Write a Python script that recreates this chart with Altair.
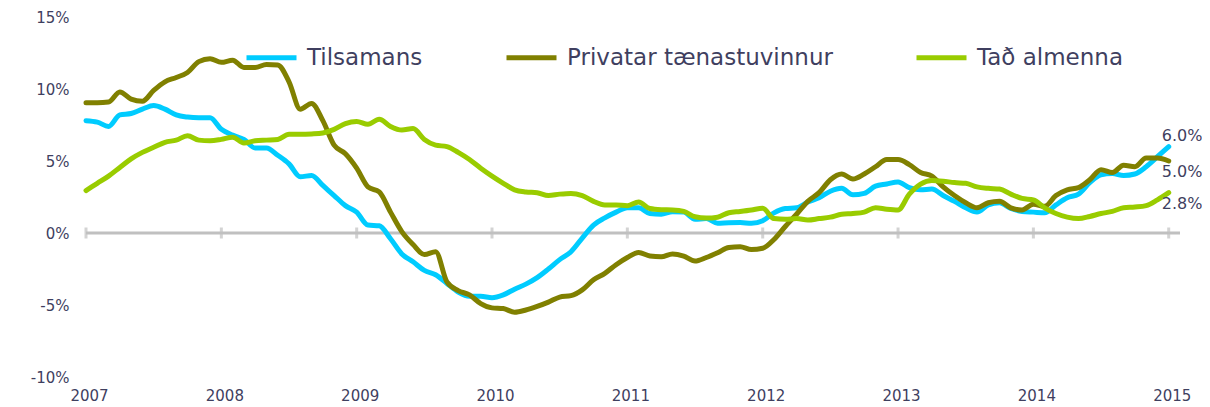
import altair as alt
import pandas as pd

series_names = ["Tilsamans", "Privatar tænastuvinnur", "Tað almenna"]
colors = ["#00CCFF", "#808000", "#99CC00"]
text_color = "#3F3F5F"
start_year = 2007

tilsamans = [7.8, 7.7, 7.4, 8.2, 8.3, 8.6, 8.85, 8.6, 8.2, 8.05, 8.0, 8.0,
             7.2, 6.8, 6.5, 5.9, 5.9, 5.4, 4.8, 3.9, 4.0, 3.3, 2.6, 1.9,
             1.45, 0.55, 0.5, -0.4, -1.45, -2.0, -2.6, -2.9, -3.5, -4.1, -4.4, -4.4,
             -4.5, -4.3, -3.9, -3.55, -3.1, -2.5, -1.85, -1.3, -0.35, 0.55, 1.05, 1.45,
             1.75, 1.75, 1.35, 1.3, 1.48, 1.45, 0.95, 1.0, 0.68, 0.72, 0.73, 0.67,
             0.85, 1.4, 1.7, 1.75, 2.15, 2.45, 2.9, 3.1, 2.65, 2.75, 3.25, 3.4,
             3.55, 3.15, 3.0, 3.05, 2.6, 2.2, 1.75, 1.45, 1.95, 2.1, 1.7, 1.5,
             1.45, 1.4, 1.95, 2.45, 2.7, 3.5, 4.05, 4.13, 4.0, 4.1, 4.6, 5.3,
             6.0]
privatar = [9.05, 9.05, 9.1, 9.8, 9.3, 9.15, 9.9, 10.5, 10.8, 11.15, 11.9, 12.1,
            11.85, 12.0, 11.5, 11.5, 11.7, 11.67, 10.5, 8.6, 9.0, 7.8, 6.1, 5.5,
            4.5, 3.2, 2.85, 1.45, 0.1, -0.8, -1.5, -1.3, -3.4, -4.0, -4.3, -4.9,
            -5.2, -5.25, -5.5, -5.35, -5.1, -4.8, -4.45, -4.35, -3.95, -3.25, -2.8, -2.2,
            -1.7, -1.35, -1.6, -1.65, -1.45, -1.6, -1.95, -1.7, -1.37, -1.0, -0.95, -1.15,
            -1.06, -0.45, 0.45, 1.3, 2.2, 2.8, 3.7, 4.1, 3.75, 4.1, 4.6, 5.1,
            5.1, 4.75, 4.2, 3.95, 3.2, 2.6, 2.1, 1.75, 2.1, 2.2, 1.75, 1.6,
            2.0, 1.85, 2.6, 3.0, 3.15, 3.7, 4.4, 4.2, 4.7, 4.6, 5.2, 5.2,
            5.0]
almenna = [2.95, 3.45, 3.95, 4.55, 5.15, 5.6, 5.95, 6.3, 6.45, 6.75, 6.45, 6.4,
           6.5, 6.65, 6.25, 6.4, 6.45, 6.5, 6.85, 6.85, 6.88, 6.95, 7.2, 7.6,
           7.75, 7.55, 7.9, 7.4, 7.15, 7.25, 6.5, 6.1, 6.0, 5.6, 5.1, 4.5,
           3.95, 3.45, 3.0, 2.85, 2.8, 2.6, 2.7, 2.75, 2.6, 2.2, 1.95, 1.95,
           1.9, 2.15, 1.7, 1.62, 1.6, 1.5, 1.13, 1.04, 1.1, 1.41, 1.5, 1.6,
           1.72, 1.0, 0.95, 1.0, 0.9, 1.0, 1.1, 1.3, 1.35, 1.45, 1.75, 1.65,
           1.6, 2.7, 3.4, 3.65, 3.6, 3.5, 3.45, 3.2, 3.1, 3.05, 2.7, 2.4,
           2.3, 1.75, 1.35, 1.1, 1.0, 1.15, 1.35, 1.5, 1.75, 1.8, 1.9, 2.3,
           2.8]
end_labels = ["6.0%", "5.0%", "2.8%"]
end_label_dy = [-11, 11, 11]
year_ticks = [2007, 2008, 2009, 2010, 2011, 2012, 2013, 2014, 2015]
y_ticks = [-10, -5, 0, 5, 10, 15]

all_series = [tilsamans, privatar, almenna]
n = len(tilsamans)
t = [start_year + i / 12 for i in range(n)]

rows = []
for name, vals in zip(series_names, all_series):
    for ti, v in zip(t, vals):
        rows.append({"t": ti, "v": v, "series": name})
df = pd.DataFrame(rows)

x_scale = alt.Scale(domain=[start_year, start_year + n / 12], nice=False, zero=False)
y_scale = alt.Scale(domain=[-10, 15], nice=False)

font = "DejaVu Sans"

x_axis = alt.Axis(values=year_ticks, format="d", domain=False, ticks=False, tickSize=0,
                  grid=False, labelPadding=11, labelFontSize=15, labelFont=font,
                  labelColor=text_color, labelOffset=3, labelFlush=False,
                  labelOverlap=False, title=None)
y_axis = alt.Axis(values=y_ticks, labelExpr="datum.value + '%'", domain=False,
                  ticks=False, tickSize=0, grid=False, labelPadding=17,
                  labelFontSize=15, labelFont=font, labelColor=text_color, title=None)

zero_line = alt.Chart(pd.DataFrame({"y": [0]})).mark_rule(
    color="#C0C0C0", strokeWidth=3
).encode(y=alt.Y("y:Q", scale=y_scale, axis=y_axis, title=None))

ticks = alt.Chart(pd.DataFrame({"year": year_ticks})).mark_tick(
    color="#C0C0C0", thickness=3, size=11, orient="vertical"
).encode(
    x=alt.X("year:Q", scale=x_scale, axis=x_axis, title=None),
    y=alt.datum(0, scale=y_scale),
)

lines = alt.Chart(df).mark_line(strokeWidth=5, strokeCap="round", interpolate="monotone").encode(
    x=alt.X("t:Q", scale=x_scale, axis=x_axis, title=None),
    y=alt.Y("v:Q", scale=y_scale, axis=y_axis, title=None),
    color=alt.Color("series:N", sort=series_names,
                    scale=alt.Scale(domain=series_names, range=colors),
                    legend=alt.Legend(title=None, orient="none", legendX=158, legendY=13,
                                      direction="horizontal", columns=3,
                                      symbolType="stroke", symbolSize=2500,
                                      symbolStrokeWidth=5, labelFontSize=23,
                                      labelFont=font, labelColor=text_color,
                                      labelLimit=500,
                                      labelOffset=8, columnPadding=73, padding=0)),
    order=alt.Order("t:Q"),
    detail="series:N",
)

label_layers = []
for name, vals, lab, dy in zip(series_names, all_series, end_labels, end_label_dy):
    ldf = pd.DataFrame({"t": [t[-1]], "v": [vals[-1]], "label": [lab]})
    label_layers.append(
        alt.Chart(ldf).mark_text(align="left", baseline="middle", dx=-7, dy=dy,
                                 fontSize=16, font=font, color=text_color).encode(
            x=alt.X("t:Q", scale=x_scale, axis=x_axis, title=None),
            y=alt.Y("v:Q", scale=y_scale, axis=y_axis, title=None),
            text="label:N",
        )
    )

chart = alt.layer(zero_line, ticks, lines, *label_layers).properties(
    width=1094, height=360,
    padding={"left": 78, "top": 9, "right": 22, "bottom": 30},
    autosize=alt.AutoSizeParams(type="none"),
).configure(background="white").configure_view(stroke=None)

chart.save("out.html", embed_options={"renderer": "svg", "actions": False})
